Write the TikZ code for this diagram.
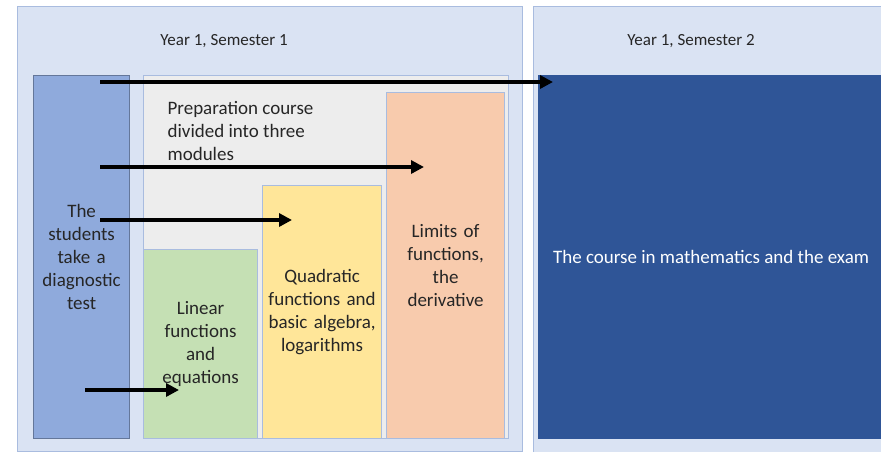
\documentclass[tikz,border=0pt]{standalone}
\usepackage{fontspec}
\setmainfont{Carlito}
\usepackage{tikz}
\usetikzlibrary{positioning,arrows.meta}
\definecolor{panelbg}{HTML}{DAE3F3}
\definecolor{panelline}{HTML}{A9BCDF}
\definecolor{testblue}{HTML}{8FAADC}
\definecolor{prepgray}{HTML}{EDEDED}
\definecolor{lingreen}{HTML}{C5E0B4}
\definecolor{quadyellow}{HTML}{FFE699}
\definecolor{limorange}{HTML}{F8CBAD}
\definecolor{examblue}{HTML}{2F5597}
\tikzset{
	panel/.style={draw=panelline,fill=panelbg,line width=1.2pt,anchor=north west,inner sep=0pt},
	box/.style={draw=panelline,line width=1.2pt,anchor=north west,inner sep=0pt,align=center,
		font=\fontsize{19}{23}\selectfont,text=black!85},
	flow/.style={line width=3.5pt,-{Triangle[length=13pt,width=13pt]}}
}

\begin{document}
\begin{tikzpicture}[x=1pt,y=-1pt]
	\useasboundingbox (0,0) rectangle (881,451);
	\fill[white] (0,0) rectangle (881,451);
	
	%Semestres
	\node[panel,minimum width=505,minimum height=445] (sem1) at (17,6) {};
	\node[panel,minimum width=352,minimum height=447] (sem2) at (533,6) {};
	\node[font=\fontsize{17}{19}\selectfont,text=black!85] (t1) at (224,41) {Year 1, Semester 1};
	\node[font=\fontsize{17}{19}\selectfont,text=black!85] (t2) at (691,41) {Year 1, Semester 2};
	
	%Test
	\node[box,fill=testblue,draw=testblue!70!black,minimum width=96,minimum height=363,text width=94] (test) at (33,75)
		{The\\students\\take a\\diagnostic\\test};
	
	%Cours de preparation
	\node[box,fill=prepgray,minimum width=365,minimum height=363] (prep) at (143,75) {};
	\node[box,align=left,fill=none,draw=none] (preptxt) at (167,101)
		{Preparation course\\divided into three\\modules};
	
	%Modules
	\node[box,fill=lingreen,minimum width=114,minimum height=189,text width=110] (lin) at (143,249)
		{Linear\\functions\\and\\equations};
	\node[box,fill=quadyellow,minimum width=119,minimum height=253,text width=117] (quad) at (262,185)
		{Quadratic\\functions and\\basic algebra,\\logarithms};
	\node[box,fill=limorange,minimum width=118,minimum height=346,text width=114] (lim) at (386,92)
		{Limits of\\functions,\\the\\derivative};
	
	%Examen
	\node[box,fill=examblue,draw=examblue,minimum width=345,minimum height=363,text=white] (exam) at (538,75)
		{The course in mathematics and the exam};
	
	%Fleches
	\coordinate (s1) at (100,82);
	\coordinate (s2) at (100,167);
	\coordinate (s3) at (100,220);
	\coordinate (s4) at (85,390);
	\coordinate (e1) at (553,82);
	\coordinate (e2) at (424,167);
	\coordinate (e3) at (292,220);
	\coordinate (e4) at (179,390);
	\draw[flow] (s1) -- (e1);
	\draw[flow] (s2) -- (e2);
	\draw[flow] (s3) -- (e3);
	\draw[flow] (s4) -- (e4);
\end{tikzpicture}
\end{document}
